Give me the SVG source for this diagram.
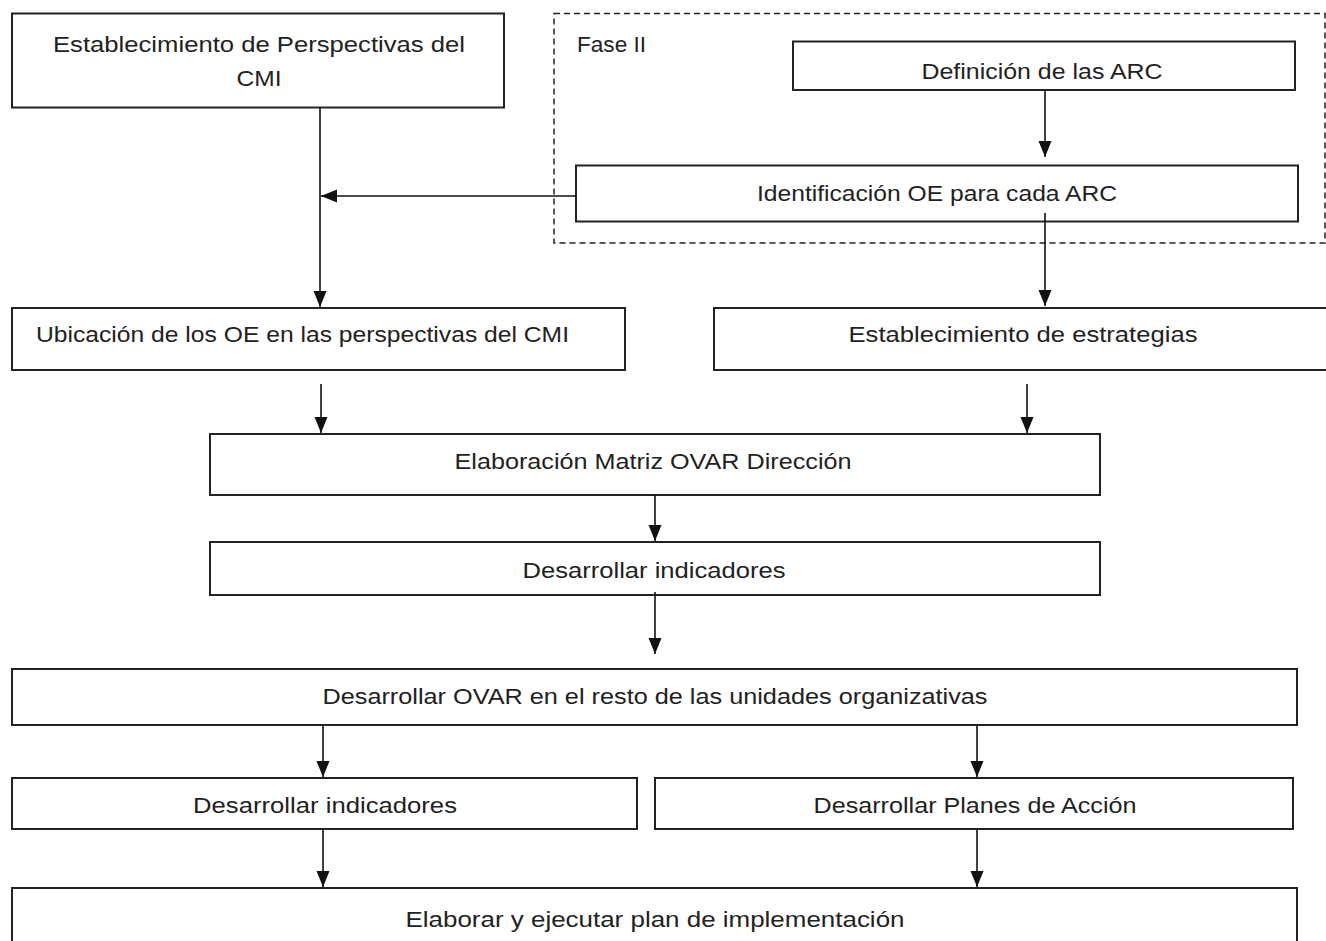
<svg xmlns="http://www.w3.org/2000/svg" width="1326" height="941" viewBox="0 0 1326 941">
<style>
.box{fill:#fff;stroke:#222;stroke-width:2}
.dash{fill:none;stroke:#222;stroke-width:1.5;stroke-dasharray:6 4}
.t{font-family:"Liberation Sans",Arial,sans-serif;font-size:22.5px;fill:#222}
.c{text-anchor:middle}
.ln{fill:none;stroke:#111;stroke-width:1.6;marker-end:url(#ah)}
</style>
<defs>
<marker id="ah" markerUnits="userSpaceOnUse" markerWidth="16" markerHeight="16" viewBox="0 0 16 16" refX="16" refY="8" orient="auto">
<path d="M0,1.5 L16,8 L0,14.5 Z" fill="#111"/>
</marker>
</defs>
<rect width="1326" height="941" fill="#fff"/>
<g id="fase2">
<rect class="dash" x="554" y="13.5" width="771" height="229.5"/>
<text class="t" x="577" y="52" textLength="69" lengthAdjust="spacingAndGlyphs">Fase II</text>
</g>
<g id="n1">
<rect class="box" x="12" y="13.5" width="492" height="94"/>
<text class="t c" x="259" y="52" textLength="412" lengthAdjust="spacingAndGlyphs">Establecimiento de Perspectivas del</text>
<text class="t c" x="259" y="86" textLength="45" lengthAdjust="spacingAndGlyphs">CMI</text>
</g>
<g id="n2">
<rect class="box" x="793" y="41.5" width="502" height="48.5"/>
<text class="t c" x="1042" y="79" textLength="241" lengthAdjust="spacingAndGlyphs">Definición de las ARC</text>
</g>
<g id="n3">
<rect class="box" x="576" y="165.5" width="722" height="56"/>
<text class="t c" x="937" y="201" textLength="360" lengthAdjust="spacingAndGlyphs">Identificación OE para cada ARC</text>
</g>
<g id="n4">
<rect class="box" x="12" y="308" width="613" height="62"/>
<text class="t" x="36" y="342" textLength="533" lengthAdjust="spacingAndGlyphs">Ubicación de los OE en las perspectivas del CMI</text>
</g>
<g id="n5">
<rect class="box" x="714" y="308" width="614" height="62"/>
<text class="t c" x="1023" y="342" textLength="349" lengthAdjust="spacingAndGlyphs">Establecimiento de estrategias</text>
</g>
<g id="n6">
<rect class="box" x="210" y="434" width="890" height="61"/>
<text class="t c" x="653" y="469" textLength="397" lengthAdjust="spacingAndGlyphs">Elaboración Matriz OVAR Dirección</text>
</g>
<g id="n7">
<rect class="box" x="210" y="542" width="890" height="53"/>
<text class="t c" x="654" y="578" textLength="263" lengthAdjust="spacingAndGlyphs">Desarrollar indicadores</text>
</g>
<g id="n8">
<rect class="box" x="12" y="669" width="1285" height="56"/>
<text class="t c" x="655" y="704" textLength="665" lengthAdjust="spacingAndGlyphs">Desarrollar OVAR en el resto de las unidades organizativas</text>
</g>
<g id="n9">
<rect class="box" x="12" y="778" width="625" height="51"/>
<text class="t c" x="325" y="813" textLength="264" lengthAdjust="spacingAndGlyphs">Desarrollar indicadores</text>
</g>
<g id="n10">
<rect class="box" x="655" y="778" width="638" height="51"/>
<text class="t c" x="975" y="813" textLength="323" lengthAdjust="spacingAndGlyphs">Desarrollar Planes de Acción</text>
</g>
<g id="n11">
<rect class="box" x="12" y="888" width="1285" height="60"/>
<text class="t c" x="655" y="927" textLength="499" lengthAdjust="spacingAndGlyphs">Elaborar y ejecutar plan de implementación</text>
</g>
<g id="connectors">
<line class="ln" x1="320" y1="108" x2="320" y2="307"/>
<line class="ln" x1="576" y1="196" x2="321" y2="196"/>
<line class="ln" x1="1045" y1="90" x2="1045" y2="157"/>
<line class="ln" x1="1045" y1="213" x2="1045" y2="306"/>
<line class="ln" x1="321" y1="384" x2="321" y2="433"/>
<line class="ln" x1="1027" y1="384" x2="1027" y2="433"/>
<line class="ln" x1="655" y1="495" x2="655" y2="541"/>
<line class="ln" x1="655" y1="592" x2="655" y2="654"/>
<line class="ln" x1="323" y1="725" x2="323" y2="777"/>
<line class="ln" x1="977" y1="725" x2="977" y2="777"/>
<line class="ln" x1="323" y1="829" x2="323" y2="887"/>
<line class="ln" x1="977" y1="829" x2="977" y2="887"/>
</g>
</svg>
